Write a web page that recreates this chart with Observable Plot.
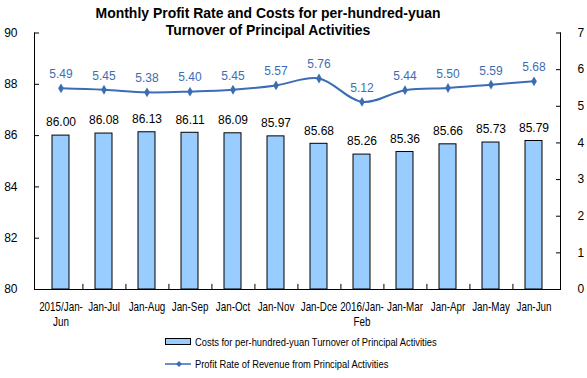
<!DOCTYPE html>
<html>
<head>
<meta charset="utf-8">
<script src="https://cdn.jsdelivr.net/npm/d3@7"></script>
<script src="https://cdn.jsdelivr.net/npm/@observablehq/plot@0.6"></script>
<style>
  body { margin: 0; background: #fff; }
  #wrap { position: relative; width: 587px; height: 378px; overflow: hidden; }
  #chart { position: absolute; left: 0; top: 0; }
  #title { position: absolute; left: 68px; width: 400px; top: 4px; text-align: center;
    font-family: "Liberation Sans", Arial, sans-serif; font-weight: bold;
    font-size: 15px; line-height: 17px; color: #000; transform: scaleX(0.93); transform-origin: 200px 0; }
  .leg { position: absolute; left: 165px; height: 14px; display: flex; align-items: center; white-space: nowrap;
    font-family: "Liberation Sans", Arial, sans-serif; font-size: 11px; color: #000; }
  .leg svg { margin-right: 4px; flex: none; }
  .leg span { display: inline-block; transform: scaleX(0.85); transform-origin: 0 50%; }
</style>
</head>
<body>
<div id="wrap">
  <div id="chart"></div>
  <div id="title">Monthly Profit Rate and Costs for per-hundred-yuan<br>Turnover of Principal Activities</div>
  <div class="leg" style="top:335px"><svg width="26" height="8"><rect x="0.5" y="0.5" width="25" height="6" fill="#99ccff" stroke="#000"/></svg><span>Costs for per-hundred-yuan Turnover of Principal Activities</span></div>
  <div class="leg" style="top:357px"><svg width="26" height="8"><line x1="0" y1="4" x2="26" y2="4" stroke="#3c6db4" stroke-width="1.5"/><path d="M14,1L17,4L14,7L11,4Z" fill="#3c6db4"/></svg><span>Profit Rate of Revenue from Principal Activities</span></div>
</div>
<script>
const categories = ["2015/Jan-\nJun","Jan-Jul","Jan-Aug","Jan-Sep","Jan-Oct","Jan-Nov","Jan-Dce","2016/Jan-\nFeb","Jan-Mar","Jan-Apr","Jan-May","Jan-Jun"];
const costs = [86.00,86.08,86.13,86.11,86.09,85.97,85.68,85.26,85.36,85.66,85.73,85.79];
const profit = [5.49,5.45,5.38,5.40,5.45,5.57,5.76,5.12,5.44,5.50,5.59,5.68];
const leftTicks = [80,82,84,86,88,90];
const rightTicks = [0,1,2,3,4,5,6,7];

const yMin = 80, yMax = 90, rMax = 7;
const toLeft = v => yMin + v * (yMax - yMin) / rMax;
const toRight = y => Math.round((y - yMin) * rMax / (yMax - yMin));

const data = categories.map((c, i) => ({cat: c, cost: costs[i], profit: profit[i], py: toLeft(profit[i])}));

const W = 587, H = 378, ML = 34, MR = 27, MT = 32.5, MB = 89;
const step = (W - ML - MR) / categories.length;
const blue = "#3c6db4";
const sans = "'Liberation Sans', Arial, sans-serif";

const plot = Plot.plot({
  width: W, height: H,
  marginLeft: ML, marginRight: MR, marginTop: MT, marginBottom: MB,
  style: {fontFamily: sans, fontSize: "12px", background: "transparent", overflow: "visible"},
  x: {domain: categories, paddingInner: 0.6, paddingOuter: 0.3, axis: null},
  y: {domain: [yMin, yMax], axis: null},
  marks: [
    Plot.barY(data, {x: "cat", y1: yMin, y2: "cost", fill: "#99ccff", stroke: "#000", strokeWidth: 1}),
    Plot.frame({anchor: "left", stroke: "#000"}),
    Plot.frame({anchor: "right", stroke: "#000"}),
    Plot.ruleY([yMin], {stroke: "#000"}),
    Plot.ruleX(categories.slice(0, -1), {x: d => d, y1: yMin, y2: yMin + 0.2, dx: step / 2, stroke: "#000"}),
    Plot.axisY(leftTicks, {anchor: "left", tickSize: -5, tickPadding: 22, tickFormat: d => d, fontSize: 12, fill: "#000"}),
    Plot.axisY(rightTicks.map(toLeft), {anchor: "right", tickSize: -5, tickPadding: 22, tickFormat: toRight, fontSize: 12, fill: "#000"}),
    Plot.text(data, {x: "cat", y: yMin, text: "cat", lineAnchor: "top", dy: 11, lineHeight: 1.25, fontSize: 12, fill: "#000", className: "catlabels"}),
    Plot.text(data, {x: "cat", y: "cost", text: d => d.cost.toFixed(2), dy: -13, fontSize: 12, fill: "#000"}),
    Plot.line(data, {x: "cat", y: "py", stroke: blue, strokeWidth: 2, curve: "catmull-rom"}),
    Plot.dot(data, {x: "cat", y: "py", symbol: "diamond", r: 3, fill: blue}),
    Plot.text(data, {x: "cat", y: "py", text: d => d.profit.toFixed(2), dy: -14, fontSize: 12, fill: blue})
  ]
});
document.getElementById("chart").appendChild(plot);

// condense the category labels horizontally about their own centre (the reference uses a narrow face)
plot.querySelectorAll(".catlabels text").forEach(t => {
  const b = t.getBBox();
  const cx = b.x + b.width / 2;
  const tr = t.getAttribute("transform") || "";
  t.setAttribute("transform", `${tr} translate(${cx},0) scale(0.82,1) translate(${-cx},0)`);
});
</script>
</body>
</html>
